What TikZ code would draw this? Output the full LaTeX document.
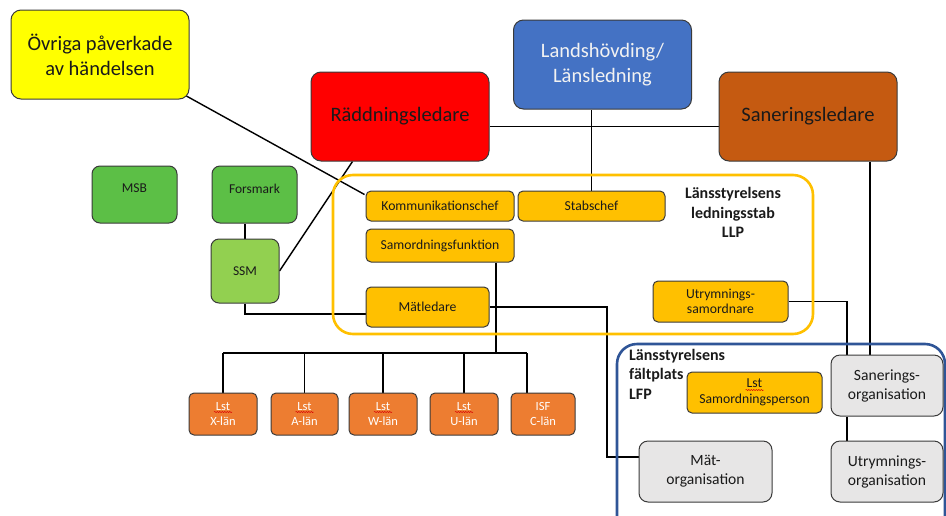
\documentclass[tikz,border=0pt]{standalone}
\usepackage{fontspec}
\setmainfont{Carlito}
\usetikzlibrary{backgrounds,decorations.pathmorphing}
\definecolor{cyel}{HTML}{FFFF00}
\definecolor{cblue}{HTML}{4472C4}
\definecolor{cred}{HTML}{FF0000}
\definecolor{csan}{HTML}{C55A11}
\definecolor{cgreen}{HTML}{5CBF46}
\definecolor{cssm}{HTML}{92D050}
\definecolor{cgold}{HTML}{FFC000}
\definecolor{corange}{HTML}{ED7D31}
\definecolor{cgray}{HTML}{E7E6E6}
\definecolor{cllp}{HTML}{FFC000}
\definecolor{clfp}{HTML}{2F5597}
\definecolor{cedge}{HTML}{3A3A3A}
\definecolor{ctext}{HTML}{1A1A1A}
\tikzset{
  box/.style={draw=cedge, line width=1pt, rounded corners=10pt, align=center, inner sep=0pt, text=ctext},
  bigbox/.style={box, minimum width=178pt, minimum height=89pt, font=\fontsize{20.5}{25}\selectfont},
  greenbox/.style={box, fill=cgreen, rounded corners=8pt, font=\fontsize{13.5}{16}\selectfont},
  goldbox/.style={box, fill=cgold, rounded corners=5pt, font=\fontsize{13.7}{16}\selectfont},
  lanbox/.style={box, fill=corange, rounded corners=5pt, minimum height=42pt, text=white, font=\fontsize{12.5}{14.5}\selectfont},
  orgbox/.style={box, fill=cgray, rounded corners=9pt, minimum width=112pt, minimum height=61pt, font=\fontsize{15.6}{19}\selectfont},
  conn/.style={draw=black, line width=1.4pt},
  lbl/.style={font=\bfseries\fontsize{16}{19.5}\selectfont, text=ctext, inner sep=0pt},
  squig/.style={draw=red!85!black, line width=0.5pt, decorate, decoration={snake, amplitude=0.6pt, segment length=2.5pt}},
}
\begin{document}
\begin{tikzpicture}[x=1pt,y=-1pt]
\useasboundingbox (0,0) rectangle (946,515);
\clip (0,0) rectangle (946,515);
% group frames
\draw[draw=cllp, line width=2.6pt, rounded corners=20pt] (333,175) rectangle (813,334);
\draw[draw=clfp, line width=2.6pt, rounded corners=20pt] (617,344) rectangle (945,560);
% big boxes
\node[bigbox, fill=cyel] (ovr) at (100,54.5) {Övriga påverkade\\av händelsen};
\node[bigbox, fill=cblue, text=white!95!black] (lands) at (602.5,64.5) {Landshövding/\\Länsledning};
\node[bigbox, fill=cred] (radd) at (400,116.5) {Räddningsledare};
\node[bigbox, fill=csan] (san) at (808,116.5) {Saneringsledare};
% green
\node[greenbox, minimum width=85pt, minimum height=57pt, text depth=12pt] (msb) at (134.5,194.5) {MSB};
\node[greenbox, minimum width=85pt, minimum height=57pt, text depth=12pt] (fors) at (254.5,194.5) {Forsmark};
\node[greenbox, fill=cssm, minimum width=68pt, minimum height=64pt] (ssm) at (245,271) {SSM};
% LLP
\node[goldbox, minimum width=148pt, minimum height=30pt] (komm) at (440,206) {Kommunikationschef};
\node[goldbox, minimum width=147pt, minimum height=30pt] (stab) at (591.5,206) {Stabschef};
\node[goldbox, minimum width=148pt, minimum height=33pt] (samf) at (440,245.5) {Samordningsfunktion};
\node[goldbox, minimum width=123pt, minimum height=40pt] (matl) at (427.5,307) {Mätledare};
\node[goldbox, minimum width=135pt, minimum height=41pt, font=\fontsize{13.7}{15.5}\selectfont] (utrs) at (720.5,301.5) {Utrymnings-\\samordnare};
\node[lbl, align=center] (llp) at (733,212.5) {Länsstyrelsens\\ledningsstab\\LLP};
% län
\node[lanbox, minimum width=68pt] (xlan) at (223,414) {Lst\\X-län};
\node[lanbox, minimum width=67pt] (alan) at (304.5,414) {Lst\\A-län};
\node[lanbox, minimum width=68pt] (wlan) at (383,414) {Lst\\W-län};
\node[lanbox, minimum width=68pt] (ulan) at (464,414) {Lst\\U-län};
\node[lanbox, minimum width=64pt] (clan) at (543,414) {ISF\\C-län};
% LFP
\node[lbl, align=left, anchor=north west] (lfp) at (629,349) {Länsstyrelsens\\fältplats\\LFP};
\node[goldbox, minimum width=135pt, minimum height=41pt] (lsts) at (754.5,392.5) {Lst\\Samordningsperson};
\node[orgbox] (sorg) at (887,385.5) {Sanerings-\\organisation};
\node[orgbox, minimum width=133pt] (morg) at (705.5,471.5) {Mät-\\organisation};
\node[orgbox] (uorg) at (887,471.5) {Utrymnings-\\organisation};
% spell-check marks under "Lst"
\foreach \n in {xlan,alan,wlan,ulan}
  \draw[squig] ([xshift=-9pt,yshift=2pt]\n.center) -- ([xshift=9pt,yshift=2pt]\n.center);
\draw[squig] ([xshift=-9pt,yshift=2.5pt]lsts.center) -- ([xshift=9pt,yshift=2.5pt]lsts.center);
% connectors
\begin{scope}[on background layer]
\draw[conn] ([xshift=-4pt,yshift=4pt]ovr.south east) -- ([xshift=-1pt,yshift=-4pt]komm.north west);
\draw[conn] (ssm.east) -- ([xshift=42pt]radd.south west);
\draw[conn] (ssm.north) -- (ssm.north |- fors.south);
\coordinate (ml) at ([yshift=-7pt]matl.west);
\draw[conn] (ssm.south) |- (ml);
\draw[conn] ([yshift=-10pt]radd.east) -- ([yshift=-10pt]san.west);
\draw[conn] (stab.north) -- (stab.north |- lands.south);
\coordinate (sn) at ([xshift=-17pt]sorg.north);
\draw[conn] (sn) -- (sn |- san.south);
\draw[conn] (utrs.east) -| ([xshift=-40pt]sorg.north);
\draw[conn] ([xshift=-40pt]sorg.south) -- ([xshift=-40pt]uorg.north);
\coordinate (mb) at (607,457);
\draw[conn] (matl.east) -| (mb) -- (mb -| morg.west);
\coordinate (busL) at (223,353);
\coordinate (busR) at (527,353);
\coordinate (sf) at ([xshift=56pt]samf.south);
\draw[conn] (sf) -- (sf |- busL);
\draw[conn] (busL) -- (busR);
\draw[conn] (busL) -- (xlan.north);
\draw[conn] (alan.north |- busL) -- (alan.north);
\draw[conn] (wlan.north |- busL) -- (wlan.north);
\draw[conn] (ulan.north |- busL) -- (ulan.north);
\coordinate (cd) at ([xshift=-16pt]clan.north);
\draw[conn] (busR) -- (cd);
\end{scope}
\end{tikzpicture}
\end{document}
